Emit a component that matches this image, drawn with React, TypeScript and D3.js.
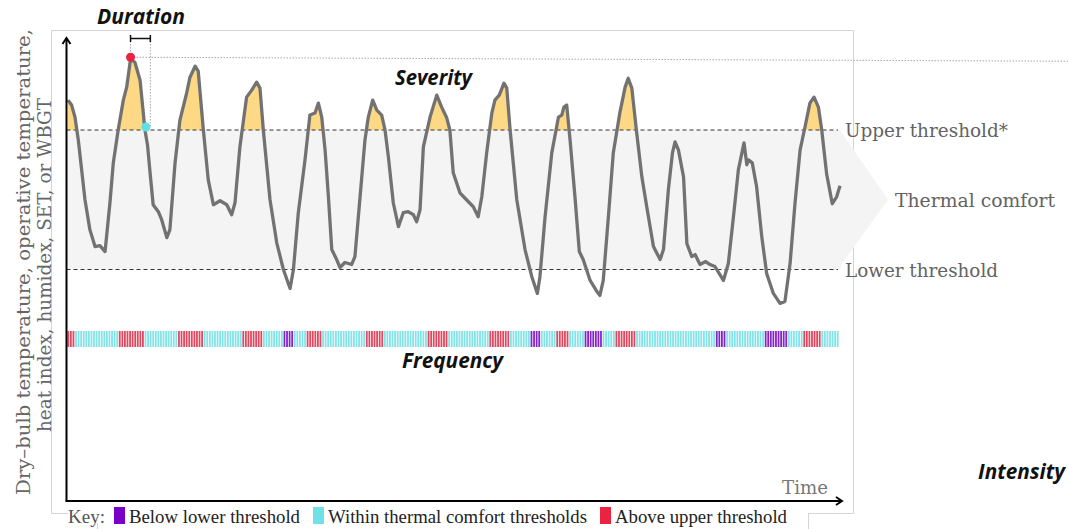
import React from 'react';
import * as d3 from 'd3';

// [hour, temperature] readings
const readings: [number, number][] = [
  [0, 33.0], [1.4, 32.5], [2.7, 31.3], [4.0, 29.0], [5.3, 26.0], [6.6, 23.0], [8.5, 20.0], [10.5, 18.3],
  [12.4, 18.4], [14.4, 17.8], [16.3, 22.7], [17.6, 26.7], [19.5, 30.0], [21.5, 33.0], [22.8, 34.3], [24.3, 37.1],
  [26.0, 36.8], [28.0, 35.0], [29.9, 30.0], [30.9, 28.5], [31.9, 25.7], [33.1, 22.5], [35.1, 21.8], [36.4, 21.0],
  [38.4, 19.2], [39.6, 20.0], [41.6, 26.7], [43.5, 31.0], [46.1, 33.7], [47.4, 35.3], [49.4, 36.4], [50.6, 35.9],
  [52.6, 30.0], [54.5, 25.0], [56.5, 22.5], [59.1, 22.9], [61.7, 22.5], [63.6, 21.5], [64.9, 22.7], [66.8, 28.3],
  [69.4, 33.3], [71.4, 34.0], [73.3, 34.8], [74.6, 34.2], [75.9, 30.0], [78.5, 23.0], [81.1, 18.7], [83.7, 16.0],
  [86.3, 14.1], [87.6, 16.0], [89.5, 21.7], [92.1, 27.0], [94.0, 31.5], [96.0, 31.7], [97.3, 32.7], [98.6, 31.3],
  [99.9, 28.0], [101.2, 23.3], [102.5, 18.0], [104.4, 17.0], [105.7, 16.2], [107.6, 16.7], [110.2, 16.5], [111.5, 17.3],
  [113.5, 23.3], [115.4, 29.0], [116.7, 31.3], [118.4, 33.0], [120.0, 32.0], [121.9, 31.5], [123.2, 30.0], [124.5, 27.3],
  [126.4, 22.7], [128.4, 20.3], [130.3, 21.7], [132.2, 21.8], [134.2, 21.5], [135.5, 20.8], [136.8, 22.0], [138.1, 28.3],
  [140.7, 31.3], [143.3, 33.5], [145.2, 32.3], [147.2, 31.2], [148.4, 30.0], [149.7, 25.7], [152.3, 23.7], [155.6, 22.8],
  [157.5, 22.3], [159.4, 21.3], [160.8, 23.3], [162.7, 27.7], [164.7, 31.7], [165.9, 33.0], [167.6, 33.5], [169.4, 34.7],
  [170.5, 34.2], [171.8, 30.0], [174.4, 23.0], [177.6, 18.0], [180.2, 15.3], [182.4, 13.6], [183.4, 15.3], [185.4, 21.3],
  [188.0, 27.7], [190.6, 31.3], [191.9, 31.5], [192.7, 32.3], [193.8, 32.5], [195.1, 29.0], [197.0, 23.3], [198.7, 17.8],
  [200.2, 17.0], [202.9, 14.9], [205.5, 13.8], [206.7, 13.4], [208.0, 14.9], [210.0, 21.3], [211.9, 27.7], [214.5, 31.8],
  [216.5, 34.3], [217.7, 35.2], [219.1, 34.2], [221.0, 29.7], [223.0, 25.3], [224.9, 22.3], [227.5, 18.3], [230.1, 17.0],
  [231.4, 18.0], [233.3, 24.0], [234.9, 27.7], [235.9, 28.8], [237.2, 28.0], [239.2, 25.3], [240.5, 18.6], [242.4, 17.3],
  [243.7, 17.5], [245.6, 16.5], [247.8, 16.8], [249.5, 16.5], [251.4, 16.3], [254.7, 14.9], [256.6, 16.6], [258.6, 21.3],
  [260.5, 26.0], [262.7, 28.7], [263.8, 26.5], [264.4, 27.0], [265.9, 26.7], [267.6, 24.3], [269.6, 19.3], [271.5, 15.6],
  [274.1, 13.6], [276.7, 12.6], [278.6, 12.8], [280.6, 16.6], [282.5, 22.6], [284.5, 28.0], [286.4, 30.3], [288.3, 32.7],
  [289.9, 33.3], [291.6, 32.3], [292.9, 30.0], [294.8, 25.6], [297.0, 22.6], [298.7, 23.3], [300.0, 24.4],
];

const upperThreshold = 30;
const lowerThreshold = 16;
const timeDomain: [number, number] = [0, 300];
const durationWindow: [number, number] = [24.3, 32.0];

const legendItems = [
  { label: 'Below lower threshold', color: '#7a00c8' },
  { label: 'Within thermal comfort thresholds', color: '#6fe1e7' },
  { label: 'Above upper threshold', color: '#ea2440' },
];
const stripeColors = { below: '#8424c8', within: '#82e3e8', above: '#e0485f' };

const yAxisLabel = ['Dry–bulb temperature, operative temperature,', 'heat index, humidex, SET, or WBGT'];
const thresholdLabels = { upper: 'Upper threshold*', comfort: 'Thermal comfort', lower: 'Lower threshold' };
const titles = { duration: 'Duration', severity: 'Severity', frequency: 'Frequency', intensity: 'Intensity' };

const W = 1068;
const H = 529;

export default function App() {
  const x = d3.scaleLinear().domain(timeDomain).range([68, 840]);
  const y = d3.scaleLinear().domain([lowerThreshold, upperThreshold]).range([269.5, 130]);

  const line = d3.line<[number, number]>().x(d => x(d[0])).y(d => y(d[1]));
  const area = d3
    .area<[number, number]>()
    .x(d => x(d[0]))
    .y0(y(upperThreshold))
    .y1(d => y(d[1]));

  const hrs = readings.map(d => d[0]);
  const interp = (t: number) => {
    const i = Math.min(Math.max(d3.bisectRight(hrs, t), 1), readings.length - 1);
    const a = readings[i - 1];
    const b = readings[i];
    const f = (t - a[0]) / (b[0] - a[0]);
    return a[1] + f * (b[1] - a[1]);
  };

  const stripes = d3.range(timeDomain[0], timeDomain[1]).map(h => {
    const v = interp(h + 0.5);
    const c = v < lowerThreshold ? stripeColors.below : v > upperThreshold ? stripeColors.above : stripeColors.within;
    return { h, c };
  });

  // peak & crossing
  const peakIdx = d3.maxIndex(readings, d => d[1]);
  const peak = readings[peakIdx];
  let cross: [number, number] = peak;
  for (let i = peakIdx; i < readings.length - 1; i++) {
    const a = readings[i];
    const b = readings[i + 1];
    if (a[1] > upperThreshold && b[1] <= upperThreshold) {
      const f = (a[1] - upperThreshold) / (a[1] - b[1]);
      cross = [a[0] + f * (b[0] - a[0]), upperThreshold];
      break;
    }
  }

  const yU = y(upperThreshold);
  const yL = y(lowerThreshold);
  const yMid = (yU + yL) / 2;
  const xEnd = x(timeDomain[1]);
  const axisX = 66.5;
  const axisY = 501;

  const serif = 'DejaVu Serif';
  const boldItalic = { fontFamily: 'Open Sans', fontStyle: 'italic', fontWeight: 700, fill: '#111' } as const;

  const legendLayout = [
    { sq: 114, tx: 129, len: 171 },
    { sq: 313, tx: 328, len: 259 },
    { sq: 600, tx: 615, len: 172 },
  ];

  return (
    <svg width={W} height={H} style={{ position: 'absolute', left: 0, top: 0, background: '#fff' }}>
      <defs>
        <clipPath id="aboveClip">
          <rect x={0} y={0} width={W} height={yU} />
        </clipPath>
      </defs>

      {/* frame */}
      <g stroke="#d4d4d4" strokeWidth={1} fill="none">
        <path d={`M51.5,513.5 L51.5,30.5 L853.5,30.5 L853.5,513.5 L808.5,513.5 L808.5,529`} />
        <path d={`M51.5,513.5 L68,513.5`} />
        <path d={`M97.5,523 L97.5,529`} />
      </g>

      {/* comfort band with arrow */}
      <path
        d={`M${axisX},${yU} L${xEnd},${yU} L${xEnd + 2},${yU + 3} L${xEnd + 48},${yMid} L${xEnd + 2},${yL - 6} L${xEnd},${yL} L${axisX},${yL} Z`}
        fill="#f4f4f4"
      />

      {/* severity fill */}
      <path d={area(readings) || ''} fill="#fdd986" clipPath="url(#aboveClip)" />

      {/* thresholds */}
      <g stroke="#333" strokeWidth={1.2} strokeDasharray="4,3">
        <line x1={axisX} x2={xEnd - 2} y1={yU} y2={yU} />
        <line x1={axisX} x2={xEnd - 2} y1={yL} y2={yL} />
      </g>

      {/* curve */}
      <path d={line(readings) || ''} fill="none" stroke="#727272" strokeWidth={3.3} strokeLinejoin="round" />

      {/* duration markers */}
      <g stroke="#a8a8a8" strokeWidth={1} strokeDasharray="1.5,1.5" fill="none">
        <line x1={x(durationWindow[0])} x2={x(durationWindow[0])} y1={38} y2={y(peak[1]) - 2} />
        <line x1={x(durationWindow[1])} x2={x(durationWindow[1])} y1={38} y2={y(cross[1]) - 3} />
        <line x1={x(peak[0]) + 3} x2={W} y1={y(peak[1]) - 2} y2={y(peak[1]) + 2} />
      </g>
      <g stroke="#111" strokeWidth={1.5}>
        <line x1={x(durationWindow[0])} x2={x(durationWindow[1])} y1={38.5} y2={38.5} />
        <line x1={x(durationWindow[0])} x2={x(durationWindow[0])} y1={35} y2={42} />
        <line x1={x(durationWindow[1])} x2={x(durationWindow[1])} y1={35} y2={42} />
      </g>
      <circle cx={x(peak[0])} cy={y(peak[1]) - 2} r={4.5} fill="#ea2440" />
      <circle cx={x(cross[0]) + 1} cy={y(cross[1]) - 3} r={4.5} fill="#5fe0e6" />

      {/* frequency stripes */}
      <g>
        {stripes.map(s => (
          <rect
            key={s.h}
            x={x(s.h) - 0.6}
            y={331}
            width={Math.max(0.5, x(s.h + 1) - x(s.h) - 0.8)}
            height={16}
            fill={s.c}
          />
        ))}
      </g>

      {/* axes */}
      <g stroke="#000" strokeWidth={2} fill="none">
        <line x1={axisX} x2={axisX} y1={axisY} y2={38} />
        <path d={`M${axisX - 4},${44} L${axisX},${38} L${axisX + 4},${44}`} />
        <line x1={axisX - 1} x2={842} y1={axisY} y2={axisY} />
        <path d={`M836,${axisY - 4} L842,${axisY} L836,${axisY + 4}`} />
      </g>

      {/* y-axis label */}
      <g fill="#666" fontFamily={serif} fontSize={19}>
        <text transform="translate(30,262) rotate(-90)" textAnchor="middle" textLength={466} lengthAdjust="spacingAndGlyphs">
          {yAxisLabel[0]}
        </text>
        <text transform="translate(51,265) rotate(-90)" textAnchor="middle" textLength={334} lengthAdjust="spacingAndGlyphs">
          {yAxisLabel[1]}
        </text>
      </g>

      {/* threshold labels */}
      <g fill="#636363" fontFamily={serif} fontSize={19}>
        <text x={845} y={137} textLength={163} lengthAdjust="spacingAndGlyphs">{thresholdLabels.upper}</text>
        <text x={895} y={207} textLength={160} lengthAdjust="spacingAndGlyphs">{thresholdLabels.comfort}</text>
        <text x={845} y={277} textLength={153} lengthAdjust="spacingAndGlyphs">{thresholdLabels.lower}</text>
        <text x={782} y={494} textLength={46} lengthAdjust="spacingAndGlyphs" fill="#777">Time</text>
      </g>

      {/* titles */}
      <text x={97} y={24} fontSize={21} {...boldItalic} textLength={88} lengthAdjust="spacingAndGlyphs">{titles.duration}</text>
      <text x={395} y={85} fontSize={21} {...boldItalic} textLength={77} lengthAdjust="spacingAndGlyphs">{titles.severity}</text>
      <text x={402} y={368} fontSize={21} {...boldItalic} textLength={101} lengthAdjust="spacingAndGlyphs">{titles.frequency}</text>
      <text x={978} y={479} fontSize={21} {...boldItalic} textLength={87} lengthAdjust="spacingAndGlyphs">{titles.intensity}</text>

      {/* legend */}
      <g fontFamily="Liberation Serif" fontSize={19}>
        <text x={68} y={523} fill="#555" textLength={37} lengthAdjust="spacingAndGlyphs">Key:</text>
        {legendItems.map((d, i) => (
          <g key={d.label}>
            <rect x={legendLayout[i].sq} y={507} width={11} height={17} fill={d.color} />
            <text x={legendLayout[i].tx} y={523} fill="#222" textLength={legendLayout[i].len} lengthAdjust="spacingAndGlyphs">
              {d.label}
            </text>
          </g>
        ))}
      </g>
    </svg>
  );
}
